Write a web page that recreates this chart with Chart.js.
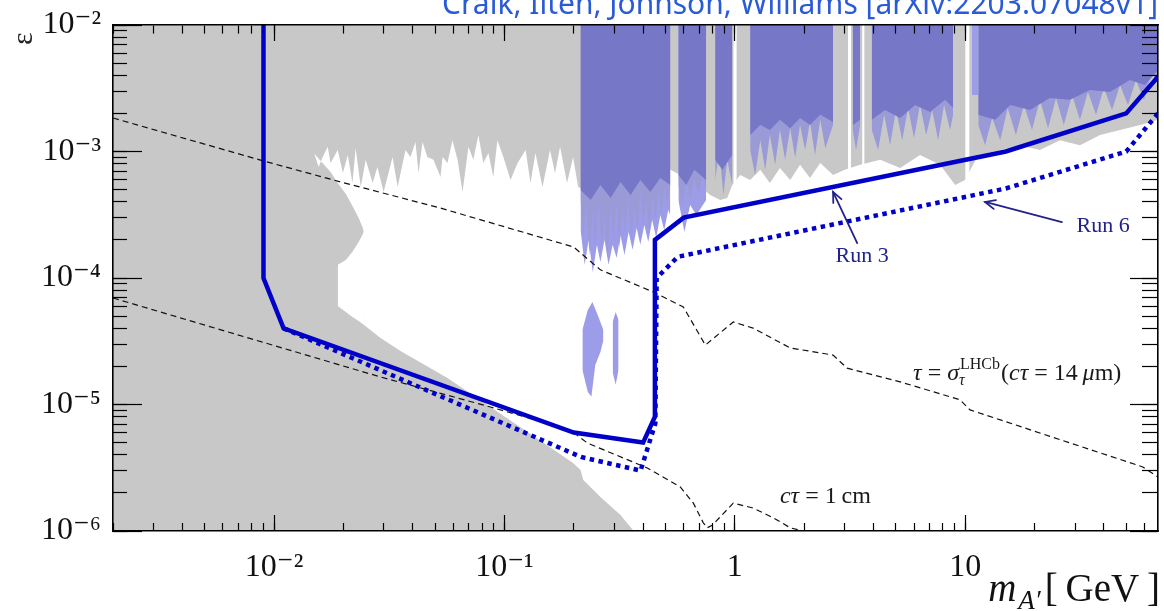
<!DOCTYPE html>
<html><head><meta charset="utf-8">
<script src="https://cdn.jsdelivr.net/npm/chart.js"></script>
<style>html,body{margin:0;padding:0;background:#fff;overflow:hidden}#wrap{width:1164px;height:611px}</style>
</head><body><div id="wrap"><canvas id="c" width="1164" height="611"></canvas></div>
<script>
// ---------- axis ranges & ticks ----------
const X_MIN = 0.002, X_MAX = 68.7, Y_MIN = 1e-6, Y_MAX = 1e-2;
const xMajorTicks = [0.01, 0.1, 1, 10];
const xMajorLabels = ['10\u207B\u00B2', '10\u207B\u00B9', '1', '10'];
const yMajorTicks = [1e-6, 1e-5, 1e-4, 1e-3, 1e-2];
const yMajorLabels = ['10\u207B\u2076', '10\u207B\u2075', '10\u207B\u2074', '10\u207B\u00B3', '10\u207B\u00B2'];
const xDecades = [0.001, 0.01, 0.1, 1, 10];
const yDecades = [1e-6, 1e-5, 1e-4, 1e-3, 1e-2];
const minorMultipliers = [1, 2, 3, 4, 5, 6, 7, 8, 9];

// ---------- data: [mass GeV, epsilon] ----------
const run3 = [[0.009,1e-2],[0.009,1e-4],[0.011,4e-5],[0.2,6e-6],[0.4,5e-6],[0.45,8e-6],[0.45,2e-4],[0.6,3e-4],[15,1e-3],[50,2e-3],[68.7,3.9e-3]];
const run6 = [[0.011,4e-5],[0.215,3.85e-6],[0.39,3e-6],[0.452,7.1e-6],[0.458,1e-4],[0.565,1.47e-4],[15,5.1e-4],[50,1e-3],[68.7,2e-3]];
const tauLine = [[0.002,1.84e-3],[0.00902,8.41e-4],[0.0195,5.74e-4],[0.0528,3.57e-4],[0.1995,1.76e-4],[0.214,1.58e-4],[0.261,1.16e-4],[0.443,7.75e-5],[0.598,5.9e-5],[0.745,2.95e-5],[0.985,4.49e-5],[1.20,4.02e-5],[1.74,2.80e-5],[2.67,2.46e-5],[3.07,1.94e-5],[5.22,1.51e-5],[9.5,1.09e-5],[10.5,9.06e-6],[59.0,3.21e-6],[68.7,2.67e-6]];
const ctauLine = [[0.002,6.95e-5],[0.029,1.65e-5],[0.0871,9.55e-6],[0.1936,6.28e-6],[0.229,4.96e-6],[0.417,3.15e-6],[0.58,2.23e-6],[0.661,1.66e-6],[0.73,1.16e-6],[0.759,1.06e-6],[0.798,1.11e-6],[0.985,1.66e-6],[1.2,1.52e-6],[1.47,1.27e-6],[1.74,1.06e-6],[1.98,1.0e-6]];

// lower edge of the grey excluded region (top edge of the white allowed region)
const whiteTop = [[0.01486,9.91e-4],[0.01562,7.54e-4],[0.01626,9.05e-4],[0.0171,1.09e-3],[0.0176,8.11e-4],[0.0189,1.03e-3],[0.0199,6.77e-4],[0.0209,9.4e-4],[0.0219,5.63e-4],[0.0226,1.06e-3],[0.0238,5.24e-4],[0.025,8.59e-4],[0.0268,5.63e-4],[0.0281,7.54e-4],[0.0299,4.79e-4],[0.0327,9.05e-4],[0.0344,5.24e-4],[0.0372,1.03e-3],[0.0391,9.05e-4],[0.0411,1.19e-3],[0.0424,6.77e-4],[0.0441,1.19e-3],[0.0463,9.05e-4],[0.0492,8.59e-4],[0.0528,6.29e-4],[0.0539,9.05e-4],[0.0566,8.11e-4],[0.0595,1.23e-3],[0.0626,8.59e-4],[0.0658,4.79e-4],[0.0698,1.09e-3],[0.0733,8.59e-4],[0.0771,1.35e-3],[0.081,8.11e-4],[0.0852,9.73e-4],[0.0895,6.29e-4],[0.0932,1.23e-3],[0.099,9.05e-4],[0.1063,5.96e-4],[0.1141,8.11e-4],[0.1236,1.03e-3],[0.1298,5.63e-4],[0.1364,9.73e-4],[0.1463,5.24e-4],[0.1578,1.03e-3],[0.1659,6.77e-4],[0.1744,1.09e-3],[0.187,5.63e-4],[0.1986,9.05e-4],[0.209,5.24e-4],
  [0.223,4.97e-4],[0.237,6.17e-4],[0.261,4.54e-4],[0.295,5.44e-4],[0.332,4.37e-4],[0.375,5.15e-4],[0.421,4.29e-4],[0.475,4.97e-4],[0.525,7.16e-4],[0.58,6.53e-4],[0.64,5.96e-4],[0.708,5.24e-4],[0.782,4.54e-4],[0.865,4.14e-4],[0.927,4.29e-4],[0.975,5.44e-4],[1.056,6.53e-4],[1.166,5.96e-4],[1.29,7.16e-4],[1.42,5.63e-4],[1.57,7.4e-4],[1.74,5.96e-4],[1.92,7.84e-4],[2.12,6.17e-4],[2.35,8.11e-4],[2.67,6.53e-4],[3.0,7.16e-4],[3.5,7.84e-4],[4.28,8.59e-4],[5.22,7.4e-4],[6.37,9.4e-4],[7.78,7.84e-4],[9.05,5.44e-4],[9.98,5.96e-4],[11.4,9.4e-4],[14.2,1.03e-3],[17.3,1.12e-3],[21.1,1.03e-3],[25.8,1.23e-3],[31.5,1.12e-3],[38.5,1.35e-3],[47.0,1.48e-3],[57.4,1.62e-3],[68.7,1.78e-3]];
// right / lower boundary of the grey region
const whiteLower = [[0.01486,9.73e-4],[0.01595,8.41e-4],[0.0176,6.89e-4],[0.0189,5.63e-4],[0.0205,4.62e-4],[0.0219,3.71e-4],[0.0233,2.98e-4],[0.0243,2.48e-4],[0.0245,2.31e-4],[0.0246,4.25e-5],[0.029,3.36e-5],[0.0354,2.65e-5],[0.0566,1.62e-5],[0.0869,9.55e-6],[0.1298,5.85e-6],[0.1986,3.45e-6],[0.214,3.03e-6],[0.22,2.53e-6],[0.261,1.86e-6],[0.319,1.34e-6],[0.364,1.0e-6],[68.7,1.0e-6]];
// white pocket below the grey bulge
const bulgeTop = [[0.0189,1.27e-4],[0.0205,1.39e-4],[0.0219,1.61e-4],[0.0233,1.93e-4],[0.0243,2.23e-4],[0.0246,2.36e-4]];
const bulgeBottom = [[0.0189,6.01e-5],[0.0205,5.38e-5],[0.0219,4.92e-5],[0.0233,4.57e-5],[0.0246,4.25e-5]];

// blue projected-reach region: solid core (lower edge, filled to top), null = gap
const blueCore = [[0.214,4.97e-4],[0.237,4.14e-4],[0.261,5.44e-4],[0.289,4.29e-4],[0.319,5.74e-4],[0.353,4.54e-4],[0.389,5.96e-4],[0.43,4.79e-4],[0.475,6.17e-4],[0.525,5.44e-4],
  [0.547,null],
  [0.569,6.53e-4],[0.616,5.44e-4],[0.667,7.16e-4],[0.751,5.96e-4],
  [0.79,null],
  [0.822,8.59e-4],[0.883,7.16e-4],[0.975,9.4e-4],
  [1.05,null],
  [1.166,1.35e-3],[1.29,1.62e-3],[1.42,1.48e-3],[1.57,1.78e-3],[1.74,1.53e-3],[1.92,1.84e-3],[2.12,1.62e-3],[2.35,1.95e-3],[2.67,1.71e-3],
  [2.9,null],
  [3.25,1.62e-3],[3.5,1.78e-3],
  [3.7,null],
  [3.93,1.78e-3],[4.49,2.13e-3],[5.22,1.84e-3],[6.06,2.33e-3],[7.04,2.05e-3],[8.18,2.56e-3],[8.86,2.21e-3],
  [10.0,null],
  [11.4,1.95e-3],[13.5,1.78e-3],[15.7,2.33e-3],[19.1,2.13e-3],[23.3,2.65e-3],[28.5,2.56e-3],[34.8,3.07e-3],[42.5,2.95e-3],[51.9,3.68e-3],[60.3,3.36e-3],[68.7,4.41e-3]];
// ragged fringe below the core
const blueFringe = [[0.214,4.14e-4],[0.22,2.19e-4],[0.227,3.78e-4],[0.234,1.52e-4],[0.241,3.45e-4],[0.248,1.67e-4],[0.256,4.14e-4],[0.264,1.83e-4],[0.272,3.15e-4],[0.28,1.44e-4],[0.289,3.78e-4],[0.297,2.0e-4],[0.306,4.14e-4],[0.316,1.73e-4],[0.325,3.45e-4],[0.335,2.19e-4],[0.345,4.54e-4],[0.356,2.0e-4],[0.366,3.78e-4],[0.378,2.4e-4],[0.389,4.97e-4],[0.401,2.63e-4],[0.413,4.14e-4],[0.426,2.31e-4],[0.438,4.54e-4],[0.452,2.88e-4],[0.466,4.97e-4],[0.48,3.15e-4],[0.494,5.44e-4],[0.51,3.78e-4],[0.525,5.44e-4],
  [0.547,null],
  [0.569,5.44e-4],[0.592,3.78e-4],[0.616,5.96e-4],[0.64,4.14e-4],[0.667,6.17e-4],[0.695,4.54e-4],[0.723,6.53e-4],[0.751,4.97e-4],
  [0.79,null],
  [0.822,5.96e-4],[0.857,1.03e-3],[0.892,4.54e-4],[0.927,8.59e-4],[0.975,5.44e-4],
  [1.05,null],
  [1.166,1.03e-3],[1.225,6.53e-4],[1.29,1.23e-3],[1.355,7.16e-4],[1.42,1.35e-3],[1.497,7.84e-4],[1.57,1.48e-3],[1.654,8.59e-4],[1.74,1.53e-3],[1.828,8.91e-4],[1.92,1.62e-3],[2.02,1.03e-3],[2.12,1.71e-3],[2.23,9.4e-4],[2.35,1.78e-3],[2.47,1.06e-3],[2.67,1.62e-3],
  [2.9,null],
  [3.25,1.48e-3],[3.36,1.03e-3],[3.5,1.62e-3],
  [3.7,null],
  [3.93,1.48e-3],[4.19,1.03e-3],[4.45,1.95e-3],[4.72,1.12e-3],[5.01,2.13e-3],[5.33,1.23e-3],[5.65,2.21e-3],[6.0,1.28e-3],[6.37,2.33e-3],[6.77,1.35e-3],[7.19,2.13e-3],[7.63,1.23e-3],[8.1,2.33e-3],[8.6,1.48e-3],[8.86,1.95e-3],
  [10.0,null],
  [11.4,1.62e-3],[12.2,1.12e-3],[13.1,1.84e-3],[14.2,1.23e-3],[15.3,2.21e-3],[16.6,1.35e-3],[18.0,2.33e-3],[19.5,1.48e-3],[21.1,2.56e-3],[22.9,1.53e-3],[24.8,2.65e-3],[26.8,1.62e-3],[29.1,2.8e-3],[31.5,1.78e-3],[34.1,2.95e-3],[37.0,1.95e-3],[40.0,3.18e-3],[43.4,2.13e-3],[47.0,3.36e-3],[50.9,2.33e-3],[55.1,3.68e-3],[59.7,2.56e-3],[64.6,4.25e-3],[68.7,3.36e-3]];
const blueLight = [[0.214,2.4e-4],[0.223,1.27e-4],[0.232,2.0e-4],[0.242,1.11e-4],[0.252,1.83e-4],[0.261,1.34e-4],[0.272,2.0e-4],[0.283,1.27e-4],[0.295,1.83e-4],[0.307,1.44e-4],[0.319,2.19e-4],[0.332,1.52e-4],[0.346,2.31e-4],[0.36,1.67e-4],[0.375,2.48e-4],[0.389,1.83e-4],[0.405,2.63e-4],[0.421,1.93e-4],[0.438,2.88e-4],[0.456,2.07e-4],[0.475,3.15e-4],[0.494,2.4e-4],[0.514,3.45e-4],[0.525,3.15e-4],
  [0.547,null],
  [0.569,4.14e-4],[0.604,2.31e-4],[0.64,3.78e-4],[0.681,3.15e-4],[0.751,4.14e-4],
  [3.0,null],
  [10.7,2.8e-3],[11.4,2.8e-3]];
const blob1Top = [[0.218,3.88e-5],[0.23,5.58e-5],[0.241,6.46e-5],[0.254,5.1e-5],[0.269,3.88e-5]];
const blob1Bottom = [[0.218,1.88e-5],[0.23,1.26e-5],[0.2385,1.15e-5],[0.248,2.05e-5],[0.261,2.6e-5],[0.269,3.24e-5]];
const blob2Top = [[0.295,4.49e-5],[0.304,5.38e-5],[0.313,4.66e-5]];
const blob2Bottom = [[0.295,1.81e-5],[0.304,1.43e-5],[0.313,1.88e-5]];
const whiteStripes = [[0.985,3e-4],[1.02,3e-4],[1.5,null],[3.1,3e-4],[3.2,3e-4],[3.4,null],[3.57,3e-4],[3.66,3e-4],[5,null],[10.0,3e-4],[10.45,3e-4]];
const grayBg = [[X_MIN,Y_MAX],[X_MAX,Y_MAX]];

// annotations
const run3Label = [3.57, 1.49e-4];
const run6Label = [39.7, 2.58e-4];
const run3Arrow = [[3.40,1.89e-4],[2.67,4.79e-4]];
const run6Arrow = [[26.3,2.77e-4],[12.2,3.99e-4]];
const tauLabelAt = [5.94, 1.56e-5];
const ctauLabelAt = [1.57, 1.66e-6];
const topTitle = 'Craik, Ilten, Johnson, Williams [arXiv:2203.07048v1]';

// ---------- helpers ----------
const pts = a => a.map(p => ({x: p[0], y: p[1]}));
const tickList = (decades, min, max) => {
  const out = [];
  for (const d of decades) for (const k of minorMultipliers) { const v = d * k; if (v >= min * 0.999 && v <= max * 1.001) out.push({value: v}); }
  return out;
};
const C_BLUE = '#0000c8', C_GRAY = '#c8c8c8', C_REGION = '#7777c8', C_FRINGE = '#9a9ad6', C_LIGHT = '#9c9ce8', C_ANNOT = '#22228c';
const SERIF = '"Liberation Serif", "DejaVu Serif", serif';

const base = {pointRadius: 0, pointHoverRadius: 0, pointHitRadius: 0, tension: 0, spanGaps: false};
const edge = (data, order) => Object.assign({}, base, {data: pts(data), borderWidth: 0, borderColor: 'transparent', fill: false, order});
const area = (data, fill, color, order) => Object.assign({}, base, {data: pts(data), borderWidth: 0, borderColor: 'transparent', backgroundColor: color, fill, order});

const datasets = [
  Object.assign({}, base, {label: 'Run 3', data: pts(run3), borderColor: C_BLUE, borderWidth: 4.5, fill: false, order: 1, borderJoinStyle: 'miter'}),   // 0
  Object.assign({}, base, {label: 'Run 6', data: pts(run6), borderColor: C_BLUE, borderWidth: 4.5, borderDash: [4.5, 4.5], fill: false, order: 2}), // 1
  Object.assign({}, base, {label: 'tau', data: pts(tauLine), borderColor: '#111', borderWidth: 1.2, borderDash: [6, 4], fill: false, order: 5}), // 2
  Object.assign({}, base, {label: 'ctau', data: pts(ctauLine), borderColor: '#111', borderWidth: 1.2, borderDash: [6, 4], fill: false, order: 5}), // 3
  edge(blob1Top, 60),                        // 4
  area(blob1Bottom, 4, C_LIGHT, 59),         // 5
  edge(blob2Top, 60),                        // 6
  area(blob2Bottom, 6, C_LIGHT, 59),         // 7
  area(whiteStripes, 'end', '#ffffff', 65),  // 8
  area(blueCore, 'end', C_REGION, 69),       // 9
  area(blueFringe, 'end', C_FRINGE, 70),     // 10
  area(blueLight, 'end', C_LIGHT, 71),       // 11
  edge(bulgeTop, 85),                        // 12
  area(bulgeBottom, 12, '#ffffff', 84),      // 13
  edge(whiteTop, 91),                        // 14
  area(whiteLower, 14, '#ffffff', 90),       // 15
  area(grayBg, 'start', C_GRAY, 100)         // 16
];

const tickAxis = (axis, pos, len, major, border) => ({
  type: 'logarithmic', axis, position: pos,
  min: axis === 'x' ? X_MIN : Y_MIN, max: axis === 'x' ? X_MAX : Y_MAX,
  ticks: {display: false},
  grid: {display: true, drawOnChartArea: false, drawTicks: true, tickLength: len, tickColor: '#000', tickWidth: 1.2, z: 2},
  border: {display: border, color: '#000', width: 1.6, z: 2},
  afterBuildTicks: s => {
    s.ticks = major ? (axis === 'x' ? xMajorTicks : yMajorTicks).map(v => ({value: v}))
                    : tickList(axis === 'x' ? xDecades : yDecades, axis === 'x' ? X_MIN : Y_MIN, axis === 'x' ? X_MAX : Y_MAX);
  }
});

const annotPlugin = {
  id: 'annot',
  afterDatasetsDraw(chart) {
    const {ctx, scales: {x, y}} = chart;
    const px = p => [x.getPixelForValue(p[0]), y.getPixelForValue(p[1])];
    ctx.save();
    ctx.strokeStyle = C_ANNOT; ctx.lineWidth = 1.8; ctx.lineCap = 'round';
    for (const a of [run3Arrow, run6Arrow]) {
      const [x0, y0] = px(a[0]), [x1, y1] = px(a[1]);
      ctx.beginPath(); ctx.moveTo(x0, y0); ctx.lineTo(x1, y1); ctx.stroke();
      const ang = Math.atan2(y1 - y0, x1 - x0), L = 11, w = 0.42;
      ctx.beginPath();
      ctx.moveTo(x1 - L * Math.cos(ang - w), y1 - L * Math.sin(ang - w));
      ctx.lineTo(x1, y1);
      ctx.lineTo(x1 - L * Math.cos(ang + w), y1 - L * Math.sin(ang + w));
      ctx.stroke();
    }
    ctx.fillStyle = C_ANNOT; ctx.font = '22px ' + SERIF; ctx.textAlign = 'center'; ctx.textBaseline = 'middle';
    let p = px(run3Label); ctx.fillText('Run 3', p[0], p[1]);
    p = px(run6Label); ctx.fillText('Run 6', p[0], p[1]);
    const rich = (parts, x0, yb) => {
      ctx.textAlign = 'left'; ctx.textBaseline = 'alphabetic';
      let cx = x0;
      for (const part of parts) { ctx.font = part.f; ctx.fillText(part.t, cx, yb); cx += ctx.measureText(part.t).width; }
      return cx;
    };
    ctx.fillStyle = '#1a1a1a';
    const I = 'italic 24px ' + SERIF, R = '24px ' + SERIF, IS = 'italic 16px ' + SERIF, RS = '16px ' + SERIF;
    p = px(tauLabelAt);
    let cx = rich([{t: '\u03C4', f: I}, {t: ' = ', f: R}, {t: '\u03C3', f: I}], p[0], p[1]);
    ctx.font = RS; const supW = ctx.measureText('LHCb').width;
    ctx.fillText('LHCb', cx + 1, p[1] - 11);
    ctx.font = IS; ctx.fillText('\u03C4', cx, p[1] + 5);
    cx += supW + 2;
    rich([{t: '(', f: R}, {t: 'c\u03C4', f: I}, {t: ' = 14\u2009', f: R}, {t: '\u03BC', f: I}, {t: 'm)', f: R}], cx, p[1]);
    p = px(ctauLabelAt);
    rich([{t: 'c\u03C4', f: I}, {t: ' = 1\u2009cm', f: R}], p[0], p[1]);
    ctx.restore();
  },
  afterDraw(chart) {
    const {ctx, chartArea} = chart;
    ctx.save();
    ctx.fillStyle = '#2a5bd7'; ctx.font = '30px "Noto Sans", "DejaVu Sans", sans-serif';
    ctx.textAlign = 'right'; ctx.textBaseline = 'alphabetic';
    ctx.fillText(topTitle, chartArea.right, 14);
    ctx.fillStyle = '#111';
    const parts = [{t: 'm', f: 'italic 39px ' + SERIF, dy: 0, gap: 2}, {t: 'A\u2032', f: 'italic 27px ' + SERIF, dy: 8, gap: 4}, {t: '[\u2009GeV\u2009]', f: '39px ' + SERIF, dy: 0, gap: 0}];
    let total = 0;
    for (const q of parts) { ctx.font = q.f; total += ctx.measureText(q.t).width + q.gap; }
    let cx = chartArea.right + 2 - total;
    ctx.textAlign = 'left';
    for (const q of parts) { ctx.font = q.f; ctx.fillText(q.t, cx, 601 + q.dy); cx += ctx.measureText(q.t).width + q.gap; }
    ctx.restore();
  }
};

new Chart(document.getElementById('c'), {
  type: 'line',
  data: {datasets},
  options: {
    responsive: false, animation: false, devicePixelRatio: 1, events: [],
    layout: {padding: {top: 25, right: 6, left: 0, bottom: 0}},
    plugins: {legend: {display: false}, tooltip: {enabled: false}, title: {display: false}},
    scales: {
      x: {
        type: 'logarithmic', position: 'bottom', min: X_MIN, max: X_MAX,
        afterBuildTicks: s => { s.ticks = xMajorTicks.map(v => ({value: v})); },
        ticks: {autoSkip: false, maxRotation: 0, color: '#111', padding: 17, font: {family: SERIF, size: 32}, callback: (v, i) => xMajorLabels[i]},
        grid: {display: true, drawOnChartArea: false, drawTicks: false},
        border: {display: true, color: '#000', width: 1.6, z: 2},
        afterFit: s => { s.height = 80; s.paddingLeft = 0; s.paddingRight = 0; }
      },
      y: {
        type: 'logarithmic', position: 'left', min: Y_MIN, max: Y_MAX,
        afterBuildTicks: s => { s.ticks = yMajorTicks.map(v => ({value: v})); },
        ticks: {autoSkip: false, color: '#111', padding: 12, font: {family: SERIF, size: 32}, callback: (v, i) => yMajorLabels[i]},
        grid: {display: true, drawOnChartArea: false, drawTicks: false},
        border: {display: true, color: '#000', width: 1.6, z: 2},
        title: {display: true, text: '\u03B5 ', align: 'end', color: '#222', font: {family: SERIF, size: 30}, padding: {top: 6, bottom: 0}},
        afterFit: s => { s.width = 113; s.paddingTop = 0; s.paddingBottom = 0; }
      },
      xTop: tickAxis('x', {y: Y_MAX}, 8, false, true),
      xTopMaj: tickAxis('x', {y: Y_MAX}, 16, true, false),
      xBot: tickAxis('x', {y: Y_MIN}, -8, false, false),
      xBotMaj: tickAxis('x', {y: Y_MIN}, -16, true, false),
      yLeft: tickAxis('y', {x: X_MIN}, -14, false, false),
      yLeftMaj: tickAxis('y', {x: X_MIN}, -29, true, false),
      yRight: tickAxis('y', {x: X_MAX}, 15, false, true),
      yRightMaj: tickAxis('y', {x: X_MAX}, 28, true, false)
    }
  },
  plugins: [annotPlugin]
});
</script></body></html>
